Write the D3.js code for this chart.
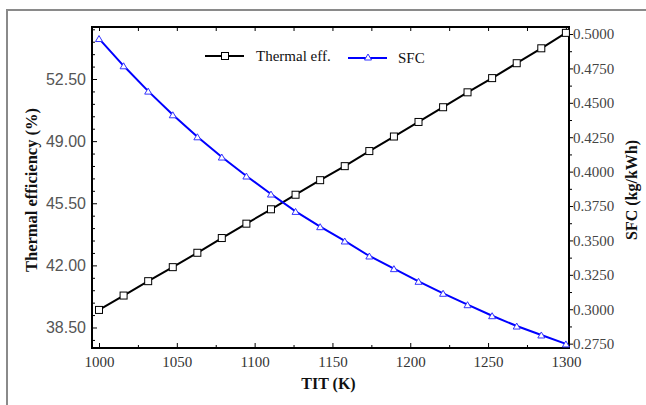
<!DOCTYPE html>
<html>
<head>
<meta charset="utf-8">
<script src="https://cdn.jsdelivr.net/npm/d3@7"></script>
<style>
  html, body { margin: 0; padding: 0; background: #fff; }
  svg { display: block; }
</style>
</head>
<body>
<svg id="chart" width="646" height="405"></svg>
<script>
// ---- data ----
const tit = [1000, 1015.8, 1031.6, 1047.4, 1063.2, 1078.9, 1094.7, 1110.5, 1126.3, 1142.1,
             1157.9, 1173.7, 1189.5, 1205.3, 1221.1, 1236.8, 1252.6, 1268.4, 1284.2, 1300];
const thermalEff = [39.49, 40.30, 41.11, 41.90, 42.71, 43.54, 44.35, 45.16, 45.98, 46.80,
                    47.59, 48.44, 49.26, 50.08, 50.91, 51.75, 52.55, 53.39, 54.23, 55.10];
const sfc = [0.4967, 0.4769, 0.4585, 0.4413, 0.4253, 0.4106, 0.3968, 0.3837, 0.3711, 0.3600,
             0.3496, 0.3387, 0.3295, 0.3203, 0.3116, 0.3033, 0.2953, 0.2878, 0.2813, 0.2748];
const xTicks = [1000, 1050, 1100, 1150, 1200, 1250, 1300];
const xMinorTicks = [1025, 1075, 1125, 1175, 1225, 1275];
const yLeftTicks = [38.5, 42.0, 45.5, 49.0, 52.5];
const yRightTicks = [0.275, 0.300, 0.325, 0.350, 0.375, 0.400, 0.425, 0.450, 0.475, 0.500];
const seriesNames = ["Thermal eff.", "SFC"];

// ---- layout ----
const L = 92, R = 569, T = 27, B = 348;
const svg = d3.select("#chart");
svg.append("rect").attr("width", 646).attr("height", 405).attr("fill", "#fff");

// outer gray frame (top + left)
svg.append("path").attr("d", "M7,410 V10 H646").attr("fill", "none")
  .attr("stroke", "#8a8a8a").attr("stroke-width", 2);

const x = d3.scaleLinear().domain([995.5, 1302]).range([L, R]);
const yL = d3.scaleLinear().domain([37.345, 55.43]).range([B, T]);
const yR = d3.scaleLinear().domain([0.27184, 0.50509]).range([B, T]);

// minor tick sets
const yLeftMinor = d3.range(37.8, 55.5, 0.7).filter(v => v > 37.35 && v < 55.43 && !yLeftTicks.some(t => Math.abs(t - v) < 1e-6));
const yRightMinor = yRightTicks.map(v => v - 0.0125).concat([0.5125]).filter(v => v > 0.2719 && v < 0.505);
const xTopTicks = xTicks.concat(xMinorTicks);

const tickColor = "#000";

// bottom axis
const gB = svg.append("g").attr("transform", `translate(0,${B})`)
  .call(d3.axisBottom(x).tickValues(xTicks).tickFormat(d3.format("d")).tickSizeInner(-5).tickSizeOuter(0).tickPadding(8));
gB.selectAll("text").attr("font-family", "'Liberation Serif', 'Times New Roman', serif")
  .attr("font-size", 15).attr("fill", "#333");
svg.append("g").attr("transform", `translate(0,${B})`)
  .call(d3.axisBottom(x).tickValues(xMinorTicks).tickFormat("").tickSizeInner(-3).tickSizeOuter(0));

// top axis ticks
svg.append("g").attr("transform", `translate(0,${T})`)
  .call(d3.axisTop(x).tickValues(xTopTicks).tickFormat("").tickSizeInner(-4).tickSizeOuter(0));

// left axis
const gL = svg.append("g").attr("transform", `translate(${L},0)`)
  .call(d3.axisLeft(yL).tickValues(yLeftTicks).tickFormat(d3.format(".2f")).tickSizeInner(-5).tickSizeOuter(0).tickPadding(6));
gL.selectAll("text").attr("font-family", "'Liberation Sans', Arial, sans-serif")
  .attr("font-size", 16).attr("fill", "#555");
svg.append("g").attr("transform", `translate(${L},0)`)
  .call(d3.axisLeft(yL).tickValues(yLeftMinor).tickFormat("").tickSizeInner(-3).tickSizeOuter(0));

// right axis
const gR = svg.append("g").attr("transform", `translate(${R},0)`)
  .call(d3.axisRight(yR).tickValues(yRightTicks).tickFormat(d3.format(".4f")).tickSizeInner(4).tickSizeOuter(0).tickPadding(0));
gR.selectAll("text").attr("font-family", "'Liberation Serif', 'Times New Roman', serif")
  .attr("font-size", 15).attr("fill", "#444");
svg.append("g").attr("transform", `translate(${R},0)`)
  .call(d3.axisRight(yR).tickValues(yRightMinor).tickFormat("").tickSizeInner(3).tickSizeOuter(0));

svg.selectAll(".domain").remove();
svg.selectAll(".tick line").attr("stroke", tickColor).attr("stroke-width", 1);

// plot frame
svg.append("rect").attr("x", L).attr("y", T).attr("width", R - L).attr("height", B - T)
  .attr("fill", "none").attr("stroke", "#000").attr("stroke-width", 2);

// axis titles
const serif = "'Liberation Serif', 'Times New Roman', serif";
svg.append("text").attr("x", (L + R) / 2 - 2).attr("y", 389).attr("text-anchor", "middle")
  .attr("font-family", serif).attr("font-weight", "bold").attr("font-size", 16).attr("fill", "#111")
  .text("TIT (K)");
svg.append("text").attr("transform", `translate(37,190) rotate(-90)`).attr("text-anchor", "middle")
  .attr("font-family", serif).attr("font-weight", "bold").attr("font-size", 16.5).attr("fill", "#111")
  .text("Thermal efficiency (%)");
svg.append("text").attr("transform", `translate(637,190) rotate(-90)`).attr("text-anchor", "middle")
  .attr("font-family", serif).attr("font-weight", "bold").attr("font-size", 16).attr("fill", "#111")
  .text("SFC (kg/kWh)");

// lines
const thermalData = tit.map((t, i) => [t, thermalEff[i]]);
const sfcData = tit.map((t, i) => [t, sfc[i]]);

svg.append("path").datum(thermalData)
  .attr("d", d3.line().x(d => x(d[0])).y(d => yL(d[1])))
  .attr("fill", "none").attr("stroke", "#000").attr("stroke-width", 2);
svg.append("path").datum(sfcData)
  .attr("d", d3.line().x(d => x(d[0])).y(d => yR(d[1])))
  .attr("fill", "none").attr("stroke", "#0000ff").attr("stroke-width", 2);

const sq = 7;
function square(g, cx, cy) {
  g.append("rect").attr("x", cx - sq / 2).attr("y", cy - sq / 2).attr("width", sq).attr("height", sq)
    .attr("fill", "#fff").attr("stroke", "#000").attr("stroke-width", 1);
}
function tri(g, cx, cy) {
  const s = 7, h = 6;
  g.append("path").attr("d", `M${cx},${cy - h / 2} L${cx + s / 2},${cy + h / 2} L${cx - s / 2},${cy + h / 2} Z`)
    .attr("fill", "#fff").attr("stroke", "#3333ff").attr("stroke-width", 1);
}
const gm = svg.append("g");
thermalData.forEach(d => square(gm, x(d[0]), yL(d[1])));
sfcData.forEach(d => tri(gm, x(d[0]), yR(d[1])));

// legend
const lg = svg.append("g");
lg.append("line").attr("x1", 205).attr("x2", 244).attr("y1", 56).attr("y2", 56).attr("stroke", "#000").attr("stroke-width", 2);
square(lg, 225, 56);
lg.append("text").attr("x", 256).attr("y", 61).attr("font-family", serif).attr("font-size", 15).attr("fill", "#111").text(seriesNames[0]);
lg.append("line").attr("x1", 348).attr("x2", 387).attr("y1", 58).attr("y2", 58).attr("stroke", "#0000ff").attr("stroke-width", 2);
tri(lg, 368, 57);
lg.append("text").attr("x", 398).attr("y", 63).attr("font-family", serif).attr("font-size", 15).attr("fill", "#111").text(seriesNames[1]);
</script>
</body>
</html>
